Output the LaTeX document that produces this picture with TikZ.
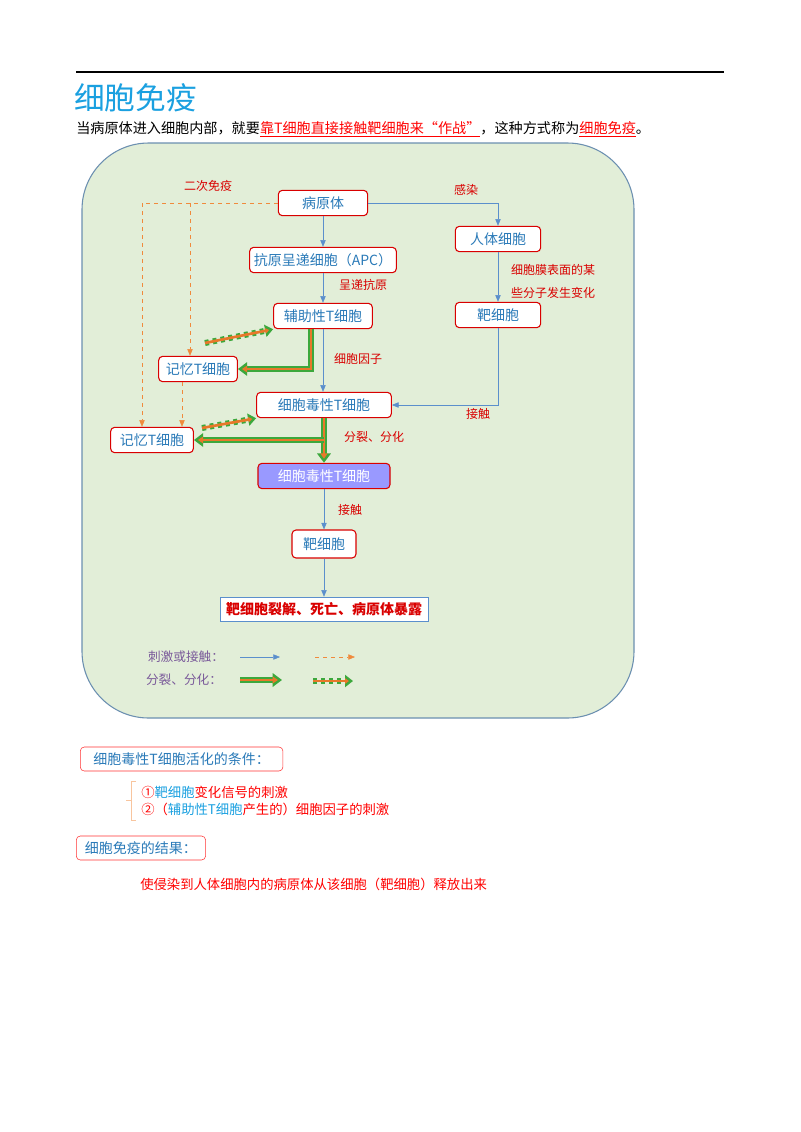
\documentclass[tikz,border=0pt]{standalone}
\usepackage{fontspec}
\setmainfont{Noto Sans CJK SC}
\usetikzlibrary{positioning,arrows.meta,calc}
\definecolor{boxblue}{HTML}{2A7AB8}
\definecolor{titleblue}{HTML}{1AA0E0}
\definecolor{arrblue}{HTML}{5B8FCC}
\definecolor{dashorange}{HTML}{F08A3C}
\definecolor{thickgreen}{HTML}{3CA83C}
\definecolor{thickorange}{HTML}{E8782A}
\definecolor{panelgreen}{HTML}{E2EED8}
\definecolor{panelline}{HTML}{6B8FB0}
\definecolor{legpurple}{HTML}{7A5A9A}
\begin{document}
\begin{tikzpicture}
 [x=0.75pt,y=-0.75pt,
% Cell boxes
    cell/.style={rectangle,rounded corners=3pt,draw=red!85!black,thick,fill=white,
        text=boxblue,font=\fontsize{10.5}{12}\selectfont,minimum height=19pt,inner sep=2pt},
    note/.style={text=red!85!black,font=\fontsize{9}{11}\selectfont\itshape},
% Connectors
    stim/.style={draw=arrblue,thin,-{Triangle[width=4pt,length=5pt]}},
    memo/.style={draw=dashorange,thin,dashed,-{Triangle[width=4pt,length=5pt]}},
    split/.style={draw=thickgreen,line width=4.5pt,-{Triangle[width=10pt,length=7pt]}},
    splitin/.style={draw=thickorange,line width=2pt,shorten >=3pt,-{Triangle[width=5pt,length=4pt]}},
    redo/.style={draw=thickgreen,line width=4.5pt,dashed,-{Triangle[width=9pt,length=6pt]}},
    redoin/.style={draw=thickorange,line width=2pt,shorten >=3pt,-{Triangle[width=4pt,length=3pt]}},
    label/.style={rectangle,rounded corners=3pt,draw=red!80,thin,text=boxblue,
        font=\fontsize{10.5}{12}\selectfont,anchor=west,minimum height=18pt}
 ]
\useasboundingbox (0,0) rectangle (800,1132);
% Heading
\draw[thick] (76,72) -- (724,72);
\node[anchor=west,text=titleblue,font=\fontsize{23}{25}\selectfont,inner sep=0pt] (title) at (74,98) {细胞免疫};
\node[anchor=west,inner sep=0pt,font=\fontsize{10.6}{12}\selectfont] (intro) at (76,129)
  {当病原体进入细胞内部，就要\textcolor{red}{\underline{靠T细胞直接接触靶细胞来“作战”}}，这种方式称为\textcolor{red}{\underline{细胞免疫}}。};
% Panel
\draw[panelline,thick,fill=panelgreen,rounded corners=50pt] (82,143) rectangle (634,718);
%% Cells
\node (path) [cell,minimum width=67pt] at (323,203) {病原体};
\node (host) [cell,minimum width=64pt] at (498,239) {人体细胞};
\node (apc) [cell,minimum width=110pt] at (323,260) {抗原呈递细胞（APC）};
\node (helper) [cell,minimum width=74pt] at (323,316) {辅助性T细胞};
\node (target) [cell,minimum width=64pt] at (498,315) {靶细胞};
\node (mem1) [cell,minimum width=59pt] at (198,369) {记忆T细胞};
\node (ctl) [cell,minimum width=101pt] at (324,405) {细胞毒性T细胞};
\node (mem2) [cell,minimum width=62pt] at (152,440) {记忆T细胞};
\node (ctla) [cell,minimum width=99pt,fill=blue!40,text=white] at (324,476) {细胞毒性T细胞};
\node (tcell) [cell,minimum width=48pt,minimum height=21pt] at (324,544) {靶细胞};
\node (lysis) [rectangle,draw=arrblue,fill=white,text=red!85!black,minimum width=156pt,minimum height=18pt,
  font=\fontsize{10.5}{12}\selectfont\bfseries] at (324,609) {靶细胞裂解、死亡、病原体暴露};
%% Notes
\node[note] at (208,186) {二次免疫};
\node[note] at (466,190) {感染};
\node[note] at (363,285) {呈递抗原};
\node[note] at (553,270) {细胞膜表面的某};
\node[note] at (553,293) {些分子发生变化};
\node[note] at (358,359) {细胞因子};
\node[note] at (478,414) {接触};
\node[note] at (374,437) {分裂、分化};
\node[note] at (350,510) {接触};
%% Stimulation arrows
\draw[stim] (path) -- (apc);
\draw[stim] (apc) -- (helper);
\draw[stim] (helper.south) -- (ctl.north -| helper.south);
\draw[stim] (path.east) -| (host.north);
\draw[stim] (host) -- (target);
\draw[stim] (target.south) |- (ctl.east);
\draw[stim] (ctla) -- (tcell);
\draw[stim] (tcell) -- (lysis);
%% Secondary response
\draw[memo] (path.west) -| (mem2.north -| 142,0);
\draw[memo] (190,203) -- (mem1.north -| 190,0);
\draw[memo] (mem1.south -| 182,0) -- (mem2.north -| 182,0);
%% Division and differentiation
\draw[split] (helper.south -| 311,0) |- (mem1.east);
\draw[splitin] (helper.south -| 311,0) |- (mem1.east);
\draw[split] (ctl.south) -- (ctla.north);
\draw[splitin] (ctl.south) -- (ctla.north);
\draw[split] (324,440) -- (mem2.east);
\draw[splitin] (324,440) -- (mem2.east);
\draw[redo] (205,343) -- (helper.south west);
\draw[redoin] (205,343) -- (helper.south west);
\draw[redo] (202,428) -- (ctl.south west);
\draw[redoin] (202,428) -- (ctl.south west);
%% Legend
\node (leg1) [text=legpurple,font=\fontsize{9.5}{11}\selectfont\itshape] at (186,657) {刺激或接触：};
\node (leg2) [text=legpurple,font=\fontsize{9.5}{11}\selectfont\itshape] at (184,680) {分裂、分化：};
\coordinate (s1) at (240,657); \coordinate (e1) at (280,657);
\coordinate (s2) at (315,657); \coordinate (e2) at (355,657);
\coordinate (s3) at (240,680); \coordinate (e3) at (282,680);
\coordinate (s4) at (313,681); \coordinate (e4) at (353,681);
\draw[stim] (s1) -- (e1);
\draw[memo] (s2) -- (e2);
\draw[split] (s3) -- (e3);
\draw[splitin] (s3) -- (e3);
\draw[redo] (s4) -- (e4);
\draw[redoin] (s4) -- (e4);
%% Conditions and result
\node (cond) [label,minimum width=152pt] at (80,759) {细胞毒性T细胞活化的条件：};
\draw[dashorange!50,thin] (136,781) -- (131,781) -- (131,820) -- (136,820) (131,800) -- (126,800);
\node (c1) [anchor=west,inner sep=0pt,text=red,font=\fontsize{10}{12}\selectfont] at (141,792)
  {①\textcolor{titleblue}{靶细胞}变化信号的刺激};
\node (c2) [anchor=west,inner sep=0pt,text=red,font=\fontsize{10}{12}\selectfont] at (141,809)
  {②（\textcolor{titleblue}{辅助性T细胞}产生的）细胞因子的刺激};
\node (res) [label,minimum width=97pt] at (76,848) {细胞免疫的结果：};
\node (r1) [anchor=west,inner sep=0pt,text=red,font=\fontsize{10}{12}\selectfont] at (140,884)
  {使侵染到人体细胞内的病原体从该细胞（靶细胞）释放出来};
\end{tikzpicture}
\end{document}
